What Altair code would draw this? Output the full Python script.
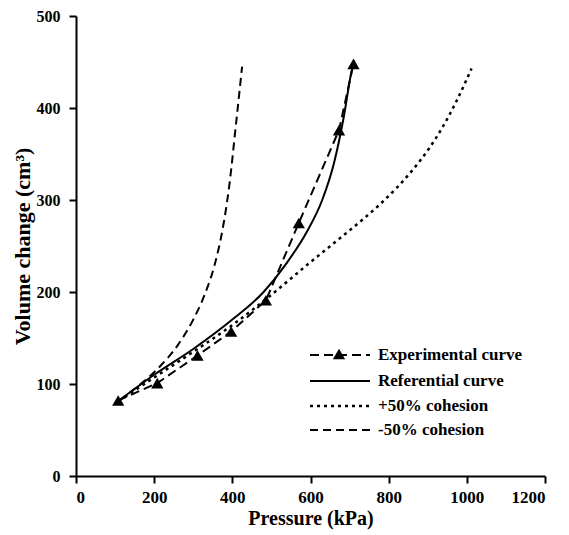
import altair as alt
import pandas as pd

# Experimental curve (markers)
exp_x = [108, 208, 311, 397, 486, 570, 673, 710]
exp_y = [82, 101, 131, 157, 191, 275, 376, 448]

# Referential curve
ref_x = [110, 200, 300, 400, 480, 540, 590, 630, 660, 685, 705, 712]
ref_y = [82, 110, 138, 170, 200, 232, 265, 300, 340, 390, 440, 452]

# +50% cohesion
plus_x = [110, 200, 300, 400, 500, 590, 674, 734, 777, 820, 862, 905, 939, 973, 1012]
plus_y = [82, 107, 135, 164, 197, 229, 258, 279, 295, 313, 333, 357, 380, 407, 443]

# -50% cohesion
minus_x = [110, 160, 210, 260, 300, 330, 355, 375, 392, 410, 425]
minus_y = [82, 98, 117, 142, 170, 198, 230, 268, 315, 385, 445]

x_ticks = [0, 200, 400, 600, 800, 1000, 1200]
y_ticks = [0, 100, 200, 300, 400, 500]

legend_labels = ["Experimental curve", "Referential curve", "+50% cohesion", "-50% cohesion"]

FONT = "Liberation Serif"

exp_df = pd.DataFrame({"p": exp_x, "v": exp_y})
ref_df = pd.DataFrame({"p": ref_x, "v": ref_y})
plus_df = pd.DataFrame({"p": plus_x, "v": plus_y})
minus_df = pd.DataFrame({"p": minus_x, "v": minus_y})

xs = alt.Scale(domain=[0, 1200], nice=False)
ys = alt.Scale(domain=[0, 500], nice=False)

X = alt.X("p:Q", scale=xs, title="Pressure (kPa)",
          axis=alt.Axis(values=x_ticks, format="d", titlePadding=3, labelPadding=6,
                        titleFontSize=20, labelFontSize=17))
Y = alt.Y("v:Q", scale=ys, title="Volume change (cm³)",
          axis=alt.Axis(values=y_ticks, format="d", titlePadding=2, labelPadding=9,
                        titleFontSize=22, labelFontSize=16))

exp_line = alt.Chart(exp_df).mark_line(color="black", strokeWidth=2, strokeDash=[9, 5]).encode(x=X, y=Y)
exp_pts = alt.Chart(exp_df).mark_point(shape="triangle-up", filled=True, color="black", size=150, opacity=1).encode(x=X, y=Y)
ref_line = alt.Chart(ref_df).mark_line(color="black", strokeWidth=2, interpolate="monotone").encode(x=X, y=Y)
plus_line = alt.Chart(plus_df).mark_line(color="black", strokeWidth=2.5, strokeDash=[3, 4], interpolate="monotone").encode(x=X, y=Y)
minus_line = alt.Chart(minus_df).mark_line(color="black", strokeWidth=2, strokeDash=[8, 5], interpolate="monotone").encode(x=X, y=Y)

# Manual legend
rows_y = [339, 365, 390, 414]
dashes = [[9, 5], None, [3, 4], [8, 5]]
widths = [2, 2, 2.5, 2]
legend_layers = []
for i, lab in enumerate(legend_labels):
    d = pd.DataFrame({"label": [lab]})
    kw = dict(color="black", strokeWidth=widths[i])
    if dashes[i] is not None:
        kw["strokeDash"] = dashes[i]
    legend_layers.append(
        alt.Chart(d).mark_rule(**kw).encode(x=alt.value(234), x2=alt.value(294), y=alt.value(rows_y[i]))
    )
    legend_layers.append(
        alt.Chart(d).mark_text(font=FONT, fontSize=17, fontWeight="bold", align="left", baseline="middle", color="black")
        .encode(x=alt.value(302), y=alt.value(rows_y[i]), text="label:N")
    )
legend_layers.append(
    alt.Chart(pd.DataFrame({"label": [legend_labels[0]]})).mark_point(shape="triangle-up", filled=True, color="black", size=150, opacity=1)
    .encode(x=alt.value(263), y=alt.value(rows_y[0] - 1))
)

chart = alt.layer(minus_line, plus_line, ref_line, exp_line, exp_pts, *legend_layers).properties(
    width=469, height=460,
    padding={"left": 76, "top": 16, "right": 24, "bottom": 59},
    autosize=alt.AutoSizeParams(type="none"),
).configure_view(stroke=None).configure_axis(
    grid=False,
    domainColor="black", domainWidth=2,
    tickColor="black", tickWidth=2, tickSize=7,
    labelFont=FONT, labelFontWeight="bold", labelColor="black",
    titleFont=FONT, titleFontWeight="bold", titleColor="black",
)

chart.save("out.html", embed_options={"renderer": "svg", "actions": False})
